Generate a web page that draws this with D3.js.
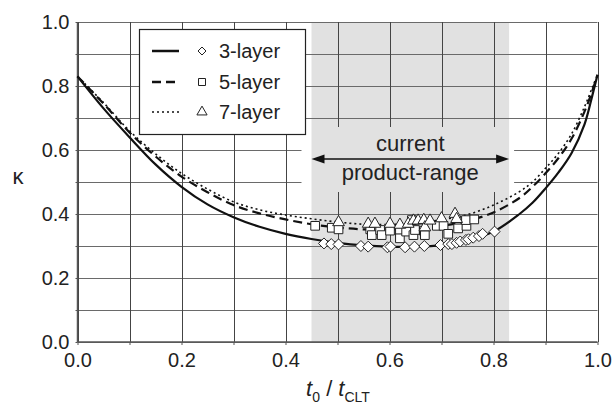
<!DOCTYPE html>
<html>
<head>
<meta charset="utf-8">
<script src="https://cdn.jsdelivr.net/npm/d3@7/dist/d3.min.js"></script>
<style>
  body { margin: 0; background: #fff; }
  svg { display: block; font-family: 'Liberation Sans', Arial, sans-serif; }
</style>
</head>
<body>
<div id="chart"></div>
<script>
// curve positions t0/tCLT
var ratio = [0, 0.05, 0.1, 0.15, 0.2, 0.25, 0.3, 0.35, 0.4, 0.45, 0.5, 0.55, 0.6, 0.65, 0.7, 0.75, 0.8, 0.85, 0.875, 0.9, 0.925, 0.95, 0.975, 0.99, 1.0]
var kappa3 = [0.83, 0.73, 0.64, 0.555, 0.485, 0.43, 0.39, 0.36, 0.338, 0.322, 0.31, 0.302, 0.298, 0.298, 0.303, 0.318, 0.345, 0.40, 0.435, 0.48, 0.53, 0.59, 0.68, 0.77, 0.835]
var kappa5 = [0.83, 0.745, 0.655, 0.58, 0.517, 0.468, 0.428, 0.402, 0.383, 0.368, 0.358, 0.352, 0.352, 0.355, 0.363, 0.378, 0.405, 0.45, 0.485, 0.527, 0.575, 0.635, 0.72, 0.785, 0.835]
var kappa7 = [0.83, 0.748, 0.66, 0.588, 0.527, 0.478, 0.438, 0.413, 0.397, 0.385, 0.375, 0.368, 0.367, 0.372, 0.382, 0.398, 0.428, 0.47, 0.50, 0.543, 0.59, 0.65, 0.735, 0.795, 0.835]

// product data points
var pts3 = [[0.474, 0.308], [0.488, 0.306], [0.502, 0.305], [0.545, 0.300], [0.559, 0.298], [0.596, 0.296], [0.602, 0.298], [0.630, 0.296], [0.648, 0.298], [0.667, 0.300], [0.698, 0.303], [0.713, 0.306], [0.720, 0.306], [0.729, 0.310], [0.736, 0.314], [0.747, 0.319], [0.752, 0.321], [0.761, 0.326], [0.772, 0.331], [0.779, 0.338], [0.802, 0.345]]
var pts5 = [[0.457, 0.363], [0.489, 0.357], [0.502, 0.352], [0.563, 0.352], [0.566, 0.334], [0.582, 0.350], [0.585, 0.334], [0.601, 0.348], [0.620, 0.350], [0.620, 0.324], [0.632, 0.345], [0.643, 0.381], [0.646, 0.334], [0.649, 0.350], [0.666, 0.348], [0.668, 0.334], [0.691, 0.363], [0.704, 0.363], [0.713, 0.338], [0.732, 0.355], [0.748, 0.363], [0.747, 0.381], [0.763, 0.383]]
var pts7 = [[0.502, 0.371], [0.559, 0.366], [0.572, 0.366], [0.601, 0.366], [0.620, 0.363], [0.636, 0.366], [0.646, 0.376], [0.655, 0.376], [0.666, 0.378], [0.668, 0.355], [0.678, 0.376], [0.700, 0.383], [0.726, 0.397], [0.729, 0.381]]

var rangeBand = [0.45, 0.83]
var gridSteps = d3.range(0, 1.0001, 0.1)
var legendNames = ['3-layer', '5-layer', '7-layer']

var width = 612
var height = 413

var x = d3.scaleLinear().domain([0, 1]).range([77.5, 597.5])
var y = d3.scaleLinear().domain([0, 1]).range([342, 22])

var svg = d3.select('#chart')
  .append('svg')
  .attr('width', width)
  .attr('height', height)

// shaded product range
svg.append('rect')
  .attr('x', x(rangeBand[0]))
  .attr('y', y(1))
  .attr('width', x(rangeBand[1]) - x(rangeBand[0]))
  .attr('height', y(0) - y(1))
  .attr('fill', '#e1e1e1')

// grid
svg.selectAll('.hgrid')
  .data(gridSteps)
  .enter()
  .append('line')
  .attr('x1', x(0))
  .attr('x2', x(1))
  .attr('y1', function (d) { return Math.round(y(d)) + 0.5 })
  .attr('y2', function (d) { return Math.round(y(d)) + 0.5 })
  .style('stroke', '#6a6a6a')

svg.selectAll('.vgrid')
  .data(gridSteps)
  .enter()
  .append('line')
  .attr('x1', function (d) { return Math.round(x(d)) + 0.5 })
  .attr('x2', function (d) { return Math.round(x(d)) + 0.5 })
  .attr('y1', y(0))
  .attr('y2', y(1))
  .style('stroke', '#444')

// label box hiding the grid
svg.append('rect')
  .attr('x', x(rangeBand[0]) - 10)
  .attr('y', 127)
  .attr('width', x(rangeBand[1]) - x(rangeBand[0]) + 15)
  .attr('height', 65)
  .attr('fill', '#fff')
svg.append('rect')
  .attr('x', x(rangeBand[0]))
  .attr('y', 127)
  .attr('width', x(rangeBand[1]) - x(rangeBand[0]))
  .attr('height', 65)
  .attr('fill', '#e1e1e1')

// axes
var xAxis = d3.axisBottom(x)
  .tickValues(gridSteps)
  .tickSize(3)
  .tickPadding(8)
  .tickFormat(function (d, i) { return i % 2 === 0 ? d3.format('.1f')(d) : '' })

var yAxis = d3.axisLeft(y)
  .tickValues(gridSteps)
  .tickSize(2)
  .tickPadding(6)
  .tickFormat(function (d, i) { return i % 2 === 0 ? d3.format('.1f')(d) : '' })

var gx = svg.append('g')
  .attr('transform', 'translate(0,' + y(0) + ')')
  .call(xAxis)
var gy = svg.append('g')
  .attr('transform', 'translate(' + x(0) + ',0)')
  .call(yAxis)

;[gx, gy].forEach(function (g) {
  g.select('.domain').remove()
  g.selectAll('line').style('stroke', '#555')
  g.selectAll('text')
    .style('font-size', '20px')
    .style('font-family', "'Liberation Sans', Arial, sans-serif")
    .style('fill', '#222')
})

svg.append('line')
  .attr('x1', x(0)).attr('x2', x(1))
  .attr('y1', y(0)).attr('y2', y(0))
  .style('stroke', '#555').style('stroke-width', 1.5)
svg.append('line')
  .attr('x1', x(0)).attr('x2', x(0))
  .attr('y1', y(0)).attr('y2', y(1))
  .style('stroke', '#555').style('stroke-width', 1.5)

// curves
var line = d3.line()
  .x(function (d) { return x(d[0]) })
  .y(function (d) { return y(d[1]) })
  .curve(d3.curveCatmullRom.alpha(0.5))

var series = [
  { vals: kappa3, dash: null, w: 2.2 },
  { vals: kappa5, dash: '9,5', w: 2.2 },
  { vals: kappa7, dash: '2,3', w: 1.6 }
]

series.forEach(function (s) {
  svg.append('path')
    .datum(ratio.map(function (r, i) { return [r, s.vals[i]] }))
    .attr('d', line)
    .attr('fill', 'none')
    .style('stroke', '#111')
    .style('stroke-width', s.w)
    .style('stroke-dasharray', s.dash)
})

// markers
var sym5 = d3.symbol().type(d3.symbolSquare).size(75)
var sym7 = d3.symbol().type(d3.symbolTriangle).size(60)
var diamond = function (r) {
  return 'M0,' + -r + 'L' + r + ',0L0,' + r + 'L' + -r + ',0Z'
}

svg.selectAll('.p5')
  .data(pts5)
  .enter()
  .append('path')
  .attr('d', sym5)
  .attr('transform', function (d) { return 'translate(' + x(d[0]) + ',' + y(d[1]) + ')' })
  .attr('fill', '#fff')
  .style('stroke', '#222')

svg.selectAll('.p7')
  .data(pts7)
  .enter()
  .append('path')
  .attr('d', sym7)
  .attr('transform', function (d) { return 'translate(' + x(d[0]) + ',' + (y(d[1]) - 1) + ')' })
  .attr('fill', '#fff')
  .style('stroke', '#222')

svg.selectAll('.p3')
  .data(pts3)
  .enter()
  .append('path')
  .attr('d', diamond(5.5))
  .attr('transform', function (d) { return 'translate(' + x(d[0]) + ',' + y(d[1]) + ')' })
  .attr('fill', '#fff')
  .style('stroke', '#222')

// range label + arrow
var ay = 159
var ax0 = x(rangeBand[0])
var ax1 = x(rangeBand[1])
svg.append('line')
  .attr('x1', ax0 + 8).attr('x2', ax1 - 8)
  .attr('y1', ay).attr('y2', ay)
  .style('stroke', '#111').style('stroke-width', 1.5)
svg.append('path')
  .attr('d', 'M' + ax0 + ',' + ay + 'l13,-4.5l0,9z')
  .attr('fill', '#111')
svg.append('path')
  .attr('d', 'M' + ax1 + ',' + ay + 'l-13,-4.5l0,9z')
  .attr('fill', '#111')

svg.append('text')
  .attr('x', (ax0 + ax1) / 2)
  .attr('y', 151)
  .attr('text-anchor', 'middle')
  .style('font-size', '22px')
  .style('fill', '#222')
  .text('current')
svg.append('text')
  .attr('x', (ax0 + ax1) / 2)
  .attr('y', 180)
  .attr('text-anchor', 'middle')
  .style('font-size', '22px')
  .style('fill', '#222')
  .text('product-range')

// legend
var legend = svg.append('g')
legend.append('rect')
  .attr('x', 139.5)
  .attr('y', 29.5)
  .attr('width', 166)
  .attr('height', 105)
  .attr('fill', '#fff')
  .style('stroke', '#222')
  .style('stroke-width', 1.2)

var legendY = [51, 82, 112]
legendNames.forEach(function (name, i) {
  var s = series[i]
  legend.append('line')
    .attr('x1', 152).attr('x2', 179)
    .attr('y1', legendY[i]).attr('y2', legendY[i])
    .style('stroke', '#111')
    .style('stroke-width', i === 2 ? 1.6 : 2.5)
    .style('stroke-dasharray', s.dash)
  var mk = legend.append('path')
    .attr('transform', 'translate(202,' + legendY[i] + ')')
    .attr('fill', '#fff')
    .style('stroke', '#222')
  if (i === 0) mk.attr('d', diamond(4))
  if (i === 1) mk.attr('d', d3.symbol().type(d3.symbolSquare).size(49))
  if (i === 2) mk.attr('d', d3.symbol().type(d3.symbolTriangle).size(45))
  legend.append('text')
    .attr('x', 219)
    .attr('y', legendY[i] + 7)
    .style('font-size', '20px')
    .style('fill', '#222')
    .text(name)
})

// axis titles
svg.append('text')
  .attr('x', 18)
  .attr('y', 184)
  .attr('text-anchor', 'middle')
  .style('font-size', '22px')
  .style('fill', '#222')
  .text('κ')

var xt = svg.append('text')
  .attr('x', 338)
  .attr('y', 396)
  .attr('text-anchor', 'middle')
  .style('font-size', '22px')
  .style('fill', '#222')
xt.append('tspan').style('font-style', 'italic').text('t')
xt.append('tspan').attr('dy', 6).style('font-size', '14px').text('0')
xt.append('tspan').attr('dy', -6).text(' / ')
xt.append('tspan').style('font-style', 'italic').text('t')
xt.append('tspan').attr('dy', 6).style('font-size', '14px').text('CLT')
</script>
</body>
</html>
